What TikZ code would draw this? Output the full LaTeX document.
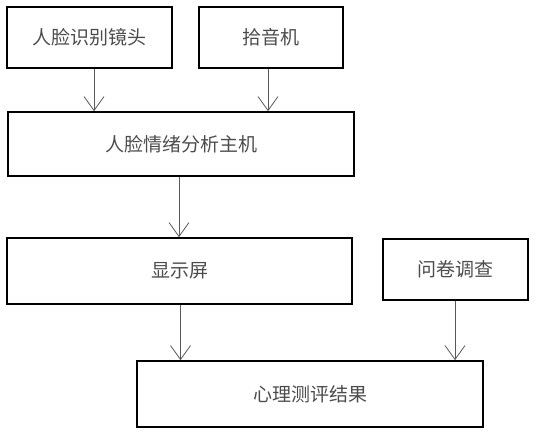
\documentclass[tikz,border=0pt]{standalone}
\usepackage{fontspec}
\newfontfamily\cjk{Noto Sans CJK SC}
\usetikzlibrary{arrows.meta}
\begin{document}
\begin{tikzpicture}[x=1pt,y=-1pt,
    unit/.style={draw=black,line width=1.6pt,inner sep=0pt,text=black!70,
        font=\cjk\fontsize{19}{21}\selectfont},
    arr/.style={draw=black!65,line width=0.8pt,-{Straight Barb[length=14pt,width=20pt]}}]
    \useasboundingbox (0,0) rectangle (536,434);
    % Boxes
    \foreach \n/\x/\y/\w/\h/\t in {cam/89.5/37.5/165/61/人脸识别镜头, mic/271/37.5/144/61/拾音机,
        host/181/144/346/64/人脸情绪分析主机, screen/179.5/271/345/66/显示屏,
        survey/455.5/269.5/145/61/问卷调查, result/310/394/346/66/心理测评结果} {
        \node[unit,minimum width=\w pt,minimum height=\h pt] (\n) at (\x,\y) {\t};
    }
    % Arrows
    \coordinate (a1) at (94,0);
    \coordinate (a2) at (268,0);
    \coordinate (a3) at (179,0);
    \coordinate (a4) at (180.5,0);
    \coordinate (a5) at (455,0);
    \draw[arr] (cam.south -| a1) -- (host.north -| a1);
    \draw[arr] (mic.south -| a2) -- (host.north -| a2);
    \draw[arr] (host.south -| a3) -- (screen.north -| a3);
    \draw[arr] (screen.south -| a4) -- (result.north -| a4);
    \draw[arr] (survey.south -| a5) -- (result.north -| a5);
\end{tikzpicture}
\end{document}
